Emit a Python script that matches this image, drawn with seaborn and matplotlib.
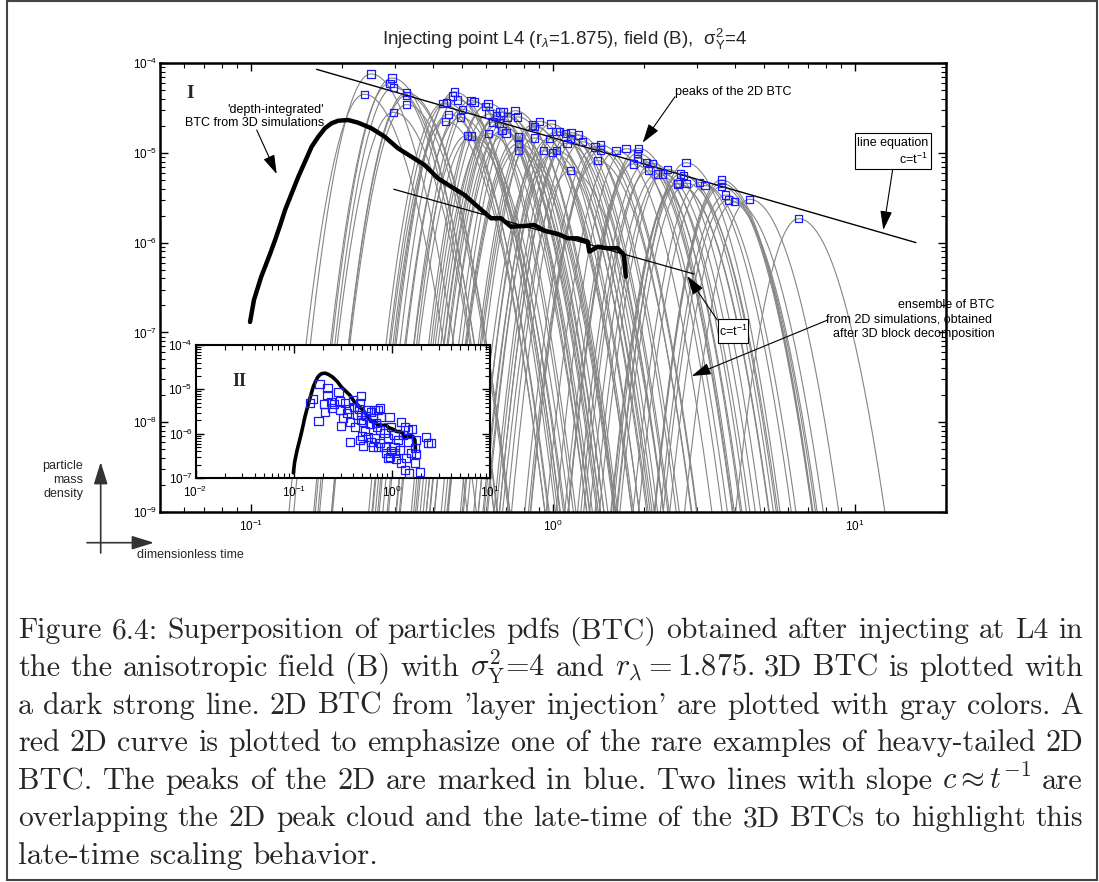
import numpy as np
import pandas as pd
import matplotlib
matplotlib.use("Agg")
import matplotlib.pyplot as plt
import seaborn as sns
from matplotlib.patches import Rectangle

# ---------------------------------------------------------------------------
# Data (log10 of dimensionless time and of particle mass density)
# ---------------------------------------------------------------------------
# peaks of the 2D BTC
peak_log_t = [-0.603, -0.533, -0.540, -0.527, -0.625, -0.484, -0.484, -0.484, -0.529,
              -0.326, -0.332, -0.316, -0.364, -0.353, -0.300, -0.345, -0.356, -0.307,
              -0.271, -0.262, -0.215, -0.224, -0.212, -0.187, -0.176, -0.165, -0.150,
              -0.126, -0.117, -0.199, -0.179, -0.284, -0.269, -0.213, -0.169, -0.156,
              -0.115, -0.115, -0.115, -0.061, -0.044, -0.067, -0.007, -0.031, -0.001,
              0.011, -0.061, -0.012, 0.010, 0.021, 0.042, 0.060, 0.084, 0.058, 0.046,
              0.097, 0.139, 0.158, 0.158, 0.147, 0.209, 0.242, 0.282, 0.280, 0.280,
              0.266, 0.309, 0.329, 0.317, 0.345, 0.363, 0.379, 0.058, 0.412, 0.440,
              0.423, 0.433, 0.414, 0.442, 0.486, 0.503, 0.557, 0.557, 0.557, 0.572,
              0.580, 0.601, 0.651, 0.813]
peak_log_c = [-4.122, -4.167, -4.227, -4.271, -4.348, -4.331, -4.359, -4.464, -4.549,
              -4.323, -4.367, -4.412, -4.453, -4.443, -4.516, -4.571, -4.650, -4.605,
              -4.416, -4.435, -4.449, -4.487, -4.568, -4.590, -4.546, -4.546, -4.601,
              -4.531, -4.601, -4.657, -4.669, -4.805, -4.813, -4.787, -4.750, -4.779,
              -4.824, -4.898, -4.972, -4.709, -4.650, -4.690, -4.679, -4.977, -4.999,
              -4.977, -4.835, -4.839, -4.765, -4.765, -4.783, -4.776, -4.802, -4.843,
              -4.895, -4.877, -4.935, -4.913, -4.969, -5.088, -4.977, -4.954, -4.950,
              -5.006, -5.061, -5.124, -5.111, -5.117, -5.200, -5.236, -5.236, -5.184,
              -5.200, -5.340, -5.111, -5.236, -5.250, -5.347, -5.340, -5.329, -5.366,
              -5.303, -5.340, -5.377, -5.470, -5.526, -5.545, -5.518, -5.734]

# curvature (decades of density per squared decade of time) on each side of a peak
rise_curv = 75.0
fall_curv = 40.0

# 'depth-integrated' BTC from the 3D simulations
btc3d_log_t = [-1.003, -0.990, -0.966, -0.953, -0.936, -0.920, -0.903, -0.887, -0.865,
               -0.843, -0.821, -0.799, -0.777, -0.755, -0.733, -0.711, -0.678, -0.645,
               -0.601, -0.557, -0.513, -0.469, -0.425, -0.381, -0.337, -0.293, -0.249,
               -0.205, -0.172, -0.139, -0.095, -0.062, -0.029, 0.016, 0.049, 0.082,
               0.115, 0.120, 0.148, 0.181, 0.214, 0.235, 0.241]
btc3d_log_c = [-6.884, -6.639, -6.380, -6.268, -6.119, -5.971, -5.804, -5.637, -5.451,
               -5.266, -5.099, -4.932, -4.821, -4.727, -4.671, -4.643, -4.635, -4.665,
               -4.727, -4.821, -4.950, -5.043, -5.136, -5.284, -5.378, -5.470, -5.600,
               -5.729, -5.729, -5.823, -5.815, -5.804, -5.867, -5.904, -5.952, -5.952,
               -5.990, -6.101, -6.046, -6.063, -6.063, -6.138, -6.380]

# peak cloud shown in panel II
inset_log_t = [-0.737, -0.655, -0.655, -0.543, -0.802, -0.836, -0.747, -0.689, -0.679,
               -0.621, -0.611, -0.587, -0.529, -0.529, -0.495, -0.519, -0.474, -0.461,
               -0.440, -0.427, -0.393, -0.382, -0.358, -0.338, -0.314, -0.324, -0.314,
               -0.314, -0.290, -0.372, -0.304, -0.270, -0.263, -0.246, -0.212, -0.177,
               -0.143, -0.119, -0.188, -0.160, -0.109, -0.222, -0.154, -0.119, -0.427,
               -0.324, -0.290, -0.188, -0.143, -0.177, -0.119, -0.075, -0.041, -0.024,
               -0.007, 0.027, 0.061, 0.095, 0.130, 0.164, 0.205, 0.113, 0.164, -0.007,
               0.027, -0.017, 0.044, 0.095, 0.140, 0.198, 0.232, 0.249, 0.232, 0.130,
               0.174, 0.283, 0.345, 0.369, 0.403, 0.249, 0.085, -0.075, -0.246, -0.212,
               -0.058, -0.034, 0.027]
inset_log_c = [-4.887, -4.977, -5.128, -5.067, -5.225, -5.316, -5.714, -5.331, -5.504,
               -5.278, -5.428, -5.338, -5.263, -5.466, -5.654, -5.827, -5.316, -5.526,
               -5.451, -5.744, -5.240, -5.391, -5.579, -5.451, -5.150, -5.316, -5.579,
               -5.692, -5.744, -5.857, -6.045, -5.932, -5.601, -5.466, -5.504, -5.466,
               -5.466, -5.428, -5.654, -5.767, -5.617, -5.789, -5.857, -5.917, -6.195,
               -6.143, -6.278, -6.293, -6.308, -6.105, -6.218, -6.308, -6.105, -5.617,
               -5.842, -6.030, -6.143, -5.729, -5.857, -5.917, -5.902, -6.030, -6.180,
               -6.391, -6.444, -6.519, -6.579, -6.669, -6.556, -6.444, -6.331, -6.459,
               -6.669, -6.819, -6.895, -6.872, -6.083, -6.203, -6.218, -6.143, -6.368,
               -5.992, -6.068, -6.180, -6.444, -6.556, -6.293]

# late-time scaling lines c ~ t^-1
upper_line_t = [0.165, 15.9]
upper_line_c = [8.5e-5, 1.0e-6]
lower_line_t = [0.297, 2.93]
lower_line_c = [3.93e-6, 4.47e-7]

caption_lines = [
    "Figure 6.4: Superposition of particles pdfs (BTC) obtained after injecting at L4 in",
    r"the the anisotropic field (B) with $\sigma^2_{\mathrm{Y}}$=4 and $r_\lambda = 1.875$. 3D BTC is plotted with",
    "a dark strong line. 2D BTC from 'layer injection' are plotted with gray colors. A",
    "red 2D curve is plotted to emphasize one of the rare examples of heavy-tailed 2D",
    r"BTC. The peaks of the 2D are marked in blue. Two lines with slope $c \approx t^{-1}$ are",
    "overlapping the 2D peak cloud and the late-time of the 3D BTCs to highlight this",
    "late-time scaling behavior.",
]

# ---------------------------------------------------------------------------
# Derived tables
# ---------------------------------------------------------------------------
peaks = pd.DataFrame({"t": 10 ** np.array(peak_log_t), "c": 10 ** np.array(peak_log_c)})
btc3d = pd.DataFrame({"t": 10 ** np.array(btc3d_log_t), "c": 10 ** np.array(btc3d_log_c)})
cloud = pd.DataFrame({"t": 10 ** np.array(inset_log_t), "c": 10 ** np.array(inset_log_c)})

frames = []
for i, (lt0, lc0) in enumerate(zip(peak_log_t, peak_log_c)):
    lt = np.linspace(lt0 - np.sqrt(6.0 / rise_curv), lt0 + np.sqrt(6.0 / fall_curv), 140)
    d = lt - lt0
    lc = lc0 - np.where(d < 0, rise_curv, fall_curv) * d ** 2
    frames.append(pd.DataFrame({"t": 10 ** lt, "c": 10 ** lc, "curve": i}))
curves = pd.concat(frames, ignore_index=True)

# ---------------------------------------------------------------------------
# Style
# ---------------------------------------------------------------------------
sns.set_style("ticks")
plt.rcParams.update({
    "font.family": ["Liberation Sans", "DejaVu Sans"],
    "mathtext.fontset": "custom",
    "mathtext.rm": "Liberation Sans",
    "mathtext.it": "Liberation Sans:italic",
    "mathtext.bf": "Liberation Sans:bold",
    "axes.edgecolor": "black",
    "xtick.color": "black",
    "ytick.color": "black",
})

W, H = 1099, 882
fig = plt.figure(figsize=(W / 100, H / 100), dpi=100)
fig.patch.set_facecolor("white")


def style_log_axes(a, spine_w, size):
    for s in a.spines.values():
        s.set_linewidth(spine_w)
        s.set_visible(True)
    a.tick_params(which="both", direction="in", top=True, right=True,
                  labelsize=size, colors="black")
    a.tick_params(which="major", length=6, width=1.0)
    a.tick_params(which="minor", length=3.5, width=0.8)
    a.tick_params(axis="y", pad=2)
    a.tick_params(axis="x", pad=5)
    a.set_xlabel("")
    a.set_ylabel("")


# main panel -----------------------------------------------------------------
ax = fig.add_axes([160 / W, 1 - 512 / H, 786 / W, 449 / H])
ax.set_xscale("log")
ax.set_yscale("log")
sns.lineplot(data=curves, x="t", y="c", units="curve", estimator=None, sort=False,
             color="#858585", lw=0.8, legend=False, ax=ax)
sns.lineplot(x=upper_line_t, y=upper_line_c, color="black", lw=1.0, ax=ax)
sns.lineplot(x=lower_line_t, y=lower_line_c, color="black", lw=0.9, ax=ax)
sns.lineplot(data=btc3d, x="t", y="c", sort=False, color="black", lw=3.2, ax=ax)
sns.scatterplot(data=peaks, x="t", y="c", marker="s", s=28, facecolor="none",
                edgecolor="#1a1aff", linewidth=0.9, ax=ax, zorder=5)
for coll in ax.collections:
    coll.set_facecolor("none")
ax.set_xlim(0.05, 20)
ax.set_ylim(1e-9, 1e-4)
style_log_axes(ax, 1.8, 8.5)

# panel II -------------------------------------------------------------------
axin = fig.add_axes([195.5 / W, 1 - 478 / H, 294.5 / W, 133 / H])
axin.set_xscale("log")
axin.set_yscale("log")
axin.set_facecolor("white")
sns.lineplot(data=btc3d, x="t", y="c", sort=False, color="black", lw=2.6, ax=axin)
sns.scatterplot(data=cloud, x="t", y="c", marker="s", s=34, facecolor="none",
                edgecolor="#1a1aff", linewidth=0.9, ax=axin, zorder=5)
for coll in axin.collections:
    coll.set_facecolor("none")
axin.set_xlim(1e-2, 1e1)
axin.set_ylim(1e-7, 1e-4)
style_log_axes(axin, 1.5, 8.5)

# annotations in figure pixels ------------------------------------------------
over = fig.add_axes([0, 0, 1, 1], zorder=10)
over.set_xlim(0, W)
over.set_ylim(H, 0)
over.axis("off")

over.text(382, 45, r"Injecting point L4 (r$_\lambda$=1.875), field (B),  $\mathrm{\sigma}^2_\mathrm{Y}$=4",
          fontsize=13.5, ha="left", va="baseline")

over.text(190.5, 93.5, "I", fontsize=14, fontweight="bold", family="Liberation Serif",
          ha="center", va="center")
over.text(239, 381, "II", fontsize=13, fontweight="bold", family="Liberation Serif",
          ha="center", va="center")

ann = dict(fontsize=9, color="black")
over.text(324, 110, "'depth-integrated'", ha="right", va="center", **ann)
over.text(324, 123, "BTC from 3D simulations", ha="right", va="center", **ann)
over.text(675, 92, "peaks of the 2D BTC", ha="left", va="center", **ann)

over.add_patch(Rectangle((855, 133.3), 76, 36, fill=True, fc="white", ec="black", lw=0.8))
over.text(928, 143, "line equation", ha="right", va="center", **ann)
over.text(928, 159, r"c=t$^{-1}$", ha="right", va="center", **ann)

over.add_patch(Rectangle((718.3, 319.3), 30, 23.4, fill=True, fc="white", ec="black", lw=0.8))
over.text(733.3, 331.5, r"c=t$^{-1}$", ha="center", va="center", **ann)

over.text(995, 305, "ensemble of BTC", ha="right", va="center", **ann)
over.text(992, 320, "from 2D simulations, obtained", ha="right", va="center", **ann)
over.text(995, 334, "after 3D block decomposition", ha="right", va="center", **ann)


def arrow(start, end, color="black", lw=0.8, scale=13):
    over.annotate("", xy=end, xytext=start,
                  arrowprops=dict(arrowstyle="-|>,head_length=0.9,head_width=0.28",
                                  color=color, lw=lw, shrinkA=0, shrinkB=0,
                                  mutation_scale=scale))


arrow((256.7, 130), (276.7, 174))
arrow((675, 96.7), (642.7, 142.7))
arrow((892.7, 169.3), (883.3, 230))
arrow((717.3, 320), (687.3, 276))
arrow((827.7, 320), (691.7, 376))

# axis orientation sketch
arrow((100.7, 553), (100.7, 462), color="#333333", lw=1.2, scale=15)
arrow((87, 542.7), (154, 542.7), color="#333333", lw=1.2, scale=15)
for yy, word in zip([466, 480, 494], ["particle", "mass", "density"]):
    over.text(83, yy, word, ha="right", va="center", fontsize=9)
over.text(137, 555, "dimensionless time", ha="left", va="center", fontsize=9)

# figure frame
over.add_patch(Rectangle((7, 1), 1090, 879, fill=False, ec="#444444", lw=1.5))


def split_words(line):
    """Split on spaces that are not inside a $...$ math group."""
    words, cur, in_math = [], "", False
    for ch in line:
        if ch == "$":
            in_math = not in_math
        if ch == " " and not in_math:
            if cur:
                words.append(cur)
            cur = ""
        else:
            cur += ch
    if cur:
        words.append(cur)
    return words


# caption, justified between the margins
renderer = fig.canvas.get_renderer()
cap_fs = 22.5
x_left, x_right = 18, 1083
baselines = [638.5, 676, 713.7, 751.3, 789, 826.5, 864]
for k, (line, yb) in enumerate(zip(caption_lines, baselines)):
    toks = split_words(line)
    texts = [over.text(0, yb, tok, family="cmr10", math_fontfamily="cm",
                       fontsize=cap_fs, ha="left", va="baseline") for tok in toks]
    widths = [t.get_window_extent(renderer).width for t in texts]
    natural = sum(widths) + cap_fs * 0.45 * (len(toks) - 1)
    if natural > (x_right - x_left):
        shrink = (x_right - x_left) / natural * 0.995
        for t in texts:
            t.set_fontsize(cap_fs * shrink)
        widths = [t.get_window_extent(renderer).width for t in texts]
    if k < len(caption_lines) - 1:
        gap = (x_right - x_left - sum(widths)) / (len(toks) - 1)
    else:
        gap = cap_fs * 0.45
    x = x_left
    for t, w in zip(texts, widths):
        t.set_x(x)
        x += w + gap

fig.savefig("out.png", dpi=100, facecolor="white")
